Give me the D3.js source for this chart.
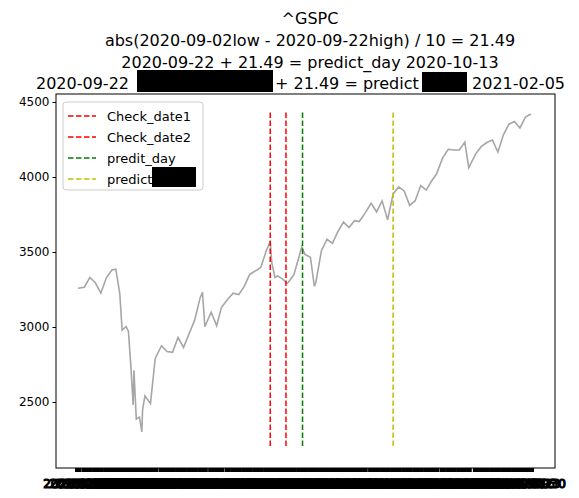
<!DOCTYPE html><html><head><script src="https://cdn.jsdelivr.net/npm/d3@7"></script>
<style>body{margin:0;background:#fff}text{font-family:"DejaVu Sans",sans-serif}</style></head><body>
<svg id="c" width="579" height="498"></svg>
<script>
const dates=["2020-01-02","2020-01-10","2020-01-17","2020-01-24","2020-01-31","2020-02-07","2020-02-14","2020-02-19","2020-02-24","2020-02-27","2020-03-03","2020-03-06","2020-03-09","2020-03-12","2020-03-13","2020-03-16","2020-03-20","2020-03-23","2020-03-24","2020-03-27","2020-04-03","2020-04-09","2020-04-17","2020-04-24","2020-05-01","2020-05-08","2020-05-15","2020-05-22","2020-05-29","2020-06-05","2020-06-08","2020-06-11","2020-06-19","2020-06-26","2020-07-02","2020-07-10","2020-07-17","2020-07-24","2020-07-31","2020-08-07","2020-08-14","2020-08-21","2020-08-28","2020-09-02","2020-09-04","2020-09-08","2020-09-11","2020-09-18","2020-09-23","2020-09-25","2020-10-02","2020-10-09","2020-10-12","2020-10-16","2020-10-23","2020-10-28","2020-10-30","2020-11-06","2020-11-13","2020-11-20","2020-11-27","2020-12-04","2020-12-11","2020-12-18","2020-12-24","2020-12-31","2021-01-08","2021-01-15","2021-01-22","2021-01-29","2021-02-05","2021-02-12","2021-02-19","2021-02-26","2021-03-05","2021-03-12","2021-03-19","2021-03-26","2021-04-01","2021-04-09","2021-04-16","2021-04-23","2021-04-30","2021-05-07","2021-05-12","2021-05-21","2021-05-28","2021-06-04","2021-06-11","2021-06-18","2021-06-25","2021-07-02","2021-07-09","2021-07-16","2021-07-23","2021-07-30"];
const closes=[3258,3265,3330,3295,3226,3328,3380,3386,3225,2980,3003,2972,2746,2480,2711,2386,2400,2300,2450,2541,2489,2790,2875,2837,2831,2930,2864,2955,3044,3194,3232,3002,3098,3009,3130,3185,3225,3216,3271,3351,3373,3397,3508,3572,3427,3331,3341,3319,3290,3298,3348,3477,3534,3484,3465,3271,3300,3509,3585,3558,3638,3699,3663,3709,3703,3756,3825,3768,3841,3714,3887,3934,3907,3811,3842,3943,3913,3975,4020,4129,4185,4180,4181,4233,4063,4156,4204,4230,4247,4166,4281,4352,4370,4327,4400,4420];
const vlines=[{d:"2020-09-02",c:"red",l:"Check_date1"},{d:"2020-09-22",c:"red",l:"Check_date2"},{d:"2020-10-13",c:"green",l:"predit_day"},{d:"2021-02-05",c:"#bfbf00",l:"predict"}];
const yTicks=[2500,3000,3500,4000,4500];
const p=d3.timeParse("%Y-%m-%d");
const data=dates.map((d,i)=>({d:p(d),v:closes[i]}));
const svg=d3.select("#c");
const L=56,R=555,T=94,B=468;
const x=d3.scaleTime().domain([p("2020-01-02"),p("2021-07-30")]).range([78,531]);
const y=d3.scaleLinear().domain([2500,4500]).range([402,102]);
data.forEach(o=>{svg.append("line").attr("x1",x(o.d)).attr("x2",x(o.d)).attr("y1",B).attr("y2",B+4).attr("stroke","#000").attr("stroke-width",6);});
svg.selectAll(".xl").data(data).join("text").attr("x",o=>x(o.d)).attr("y",B+20).attr("text-anchor","middle").attr("font-size",12).attr("stroke","#000").attr("stroke-width",1.2).text(o=>d3.timeFormat("%Y-%m-%d")(o.d));
svg.append("rect").attr("x",L).attr("y",T).attr("width",R-L).attr("height",B-T).attr("fill","none").attr("stroke","#000");
const ya=svg.append("g").attr("transform",`translate(${L},0)`).call(d3.axisLeft(y).tickValues(yTicks).tickFormat(d3.format("d")).tickSize(3.5).tickPadding(3));
ya.select(".domain").remove();ya.selectAll("text").attr("font-size",12).attr("font-family","DejaVu Sans").attr("fill","#000");
svg.append("path").datum(data).attr("d",d3.line().x(o=>x(o.d)).y(o=>y(o.v))).attr("fill","none").attr("stroke","#a6a6a6").attr("stroke-width",1.6);
vlines.forEach(v=>svg.append("line").attr("x1",x(p(v.d))).attr("x2",x(p(v.d))).attr("y1",y(4430)).attr("y2",y(2200)).attr("stroke",v.c).attr("stroke-width",1.5).attr("stroke-dasharray","5.5,2.5"));
const lg=svg.append("g");
lg.append("rect").attr("x",63).attr("y",102).attr("width",140).attr("height",88).attr("rx",3).attr("fill","#fff").attr("stroke","#ccc");
vlines.forEach((v,i)=>{const yy=116+i*21;
lg.append("line").attr("x1",68).attr("x2",96).attr("y1",yy).attr("y2",yy).attr("stroke",v.c).attr("stroke-width",1.5).attr("stroke-dasharray","5.5,2.5");
lg.append("text").attr("x",107).attr("y",yy+4.5).attr("font-size",13).text(v.l);});
lg.append("rect").attr("x",152).attr("y",167).attr("width",44).attr("height",20).attr("fill","#000");
const tt=[["^GSPC",24],["abs(2020-09-02low - 2020-09-22high) / 10 = 21.49",46],["2020-09-22 + 21.49 = predict_day 2020-10-13",68]];
tt.forEach(t=>svg.append("text").attr("x",310).attr("y",t[1]).attr("text-anchor","middle").attr("font-size",16).text(t[0]));
svg.append("text").attr("x",36).attr("y",89).attr("font-size",16).text("2020-09-22");
svg.append("rect").attr("x",137).attr("y",70).attr("width",136).attr("height",22).attr("fill","#000");
svg.append("text").attr("x",275).attr("y",89).attr("font-size",16).text("+ 21.49 = predict");
svg.append("rect").attr("x",422).attr("y",72).attr("width",45).attr("height",20).attr("fill","#000");
svg.append("text").attr("x",565).attr("y",89).attr("text-anchor","end").attr("font-size",16).text("2021-02-05");
</script></body></html>
